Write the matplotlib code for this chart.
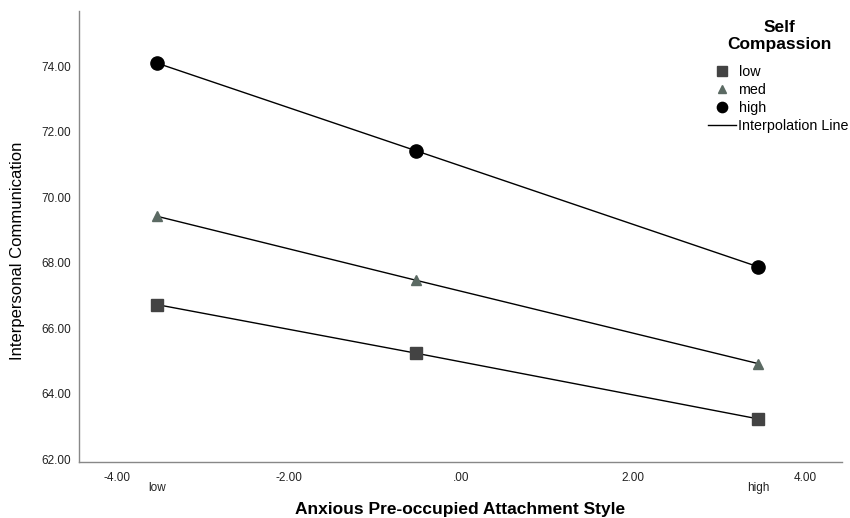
import matplotlib.pyplot as plt
from matplotlib.lines import Line2D

plt.rcParams['font.family'] = ['Liberation Sans', 'DejaVu Sans']

# x positions of the three anxious-attachment levels
x_levels = [-3.53, -0.53, 3.45]
level_names = ['low', '', 'high']

# Interpersonal Communication by Self Compassion group
low = [66.72, 65.24, 63.23]
med = [69.42, 67.47, 64.92]
high = [74.10, 71.43, 67.88]

groups = ['low', 'med', 'high']
markers = ['s', '^', 'o']
colors = ['#434343', '#5b6a63', '#000000']
sizes = [9, 7.5, 9.5]

x_ticks = [-4, -2, 0, 2, 4]
x_tick_labels = ['-4.00', '-2.00', '.00', '2.00', '4.00']
y_ticks = [62, 64, 66, 68, 70, 72, 74]

fig = plt.figure(figsize=(8.5, 5.18), dpi=100)
ax = fig.add_axes([0.093, 0.108, 0.897, 0.871])

for vals, m, c, s in zip([low, med, high], markers, colors, sizes):
    ax.plot(x_levels, vals, color='black', lw=1, zorder=2)
    ax.plot(x_levels, vals, linestyle='none', marker=m, ms=s,
            color=c, markeredgecolor=c, zorder=3)

ax.set_xlim(-4.44, 4.42)
ax.set_ylim(61.91, 75.70)
ax.set_xticks(x_ticks)
ax.set_xticklabels(x_tick_labels)
ax.set_yticks(y_ticks)
ax.set_yticklabels(['%.2f' % v for v in y_ticks])
ax.tick_params(length=0, labelsize=8.5, labelcolor='#222222', pad=6)
ax.tick_params(axis='x', pad=7.5)

for side in ['top', 'right']:
    ax.spines[side].set_visible(False)
for side in ['left', 'bottom']:
    ax.spines[side].set_color('#888888')
    ax.spines[side].set_linewidth(1)

# level names under the x tick labels
for xv, name in zip(x_levels, level_names):
    if name:
        ax.text(xv, -0.058, name, transform=ax.get_xaxis_transform(),
                ha='center', va='center', fontsize=8.5, color='#222222')

ax.set_xlabel('Anxious Pre-occupied Attachment Style', fontsize=12.5,
              fontweight='bold')
ax.xaxis.set_label_coords(0.4997, -0.088)
ax.set_ylabel('Interpersonal Communication', fontsize=12)
ax.yaxis.set_label_coords(-0.071, 0.469)

# legend, with its title drawn as text above it
handles = [Line2D([], [], linestyle='none', marker=m, ms=s * 0.78, color=c)
           for m, c, s in zip(markers, colors, sizes)]
handles.append(Line2D([], [], color='black', lw=1))
leg = ax.legend(handles, groups + ['Interpolation Line'],
                loc='upper right', frameon=False, fontsize=10.3,
                handlelength=2.0, handletextpad=0.15, labelspacing=0.29,
                borderpad=0, borderaxespad=0)
leg.set_bbox_to_anchor((849 / 850, 1 - 65 / 518), transform=fig.transFigure)

fig.text(779 / 850, 1 - 28 / 518, 'Self', ha='center', va='center',
         fontsize=12.5, fontweight='bold')
fig.text(779 / 850, 1 - 45 / 518, 'Compassion', ha='center', va='center',
         fontsize=12.5, fontweight='bold')

fig.savefig('out.png', dpi=100)
